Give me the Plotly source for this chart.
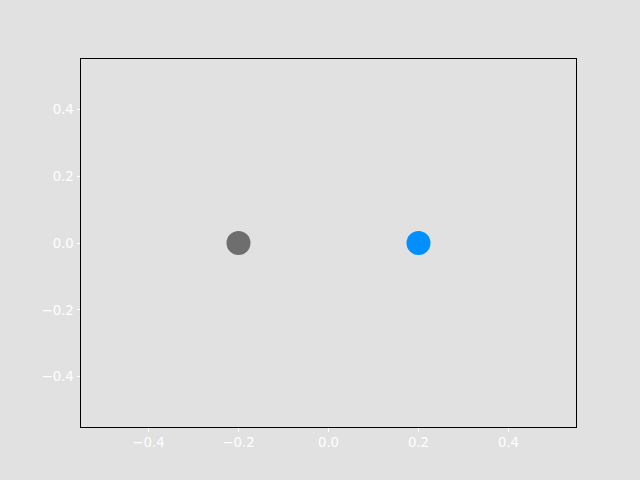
import plotly.graph_objects as go

x_vals = [-0.2, 0.2]
y_vals = [0.0, 0.0]
colors = ["#6e6e6e", "#008fff"]
tick_vals = [-0.4, -0.2, 0.0, 0.2, 0.4]
tick_text = ["\u22120.4", "\u22120.2", "0.0", "0.2", "0.4"]

fig = go.Figure()
fig.add_trace(go.Scatter(x=x_vals, y=y_vals, mode="markers",
                         marker=dict(size=24, color=colors, line=dict(width=0)),
                         showlegend=False, hoverinfo="skip"))

axis_common = dict(range=[-0.55, 0.55], showgrid=False, zeroline=False,
                   showline=True, linecolor="black", linewidth=1, mirror=True,
                   ticks="outside", ticklen=3.5, tickwidth=1, tickcolor="white",
                   tickvals=tick_vals, ticktext=tick_text,
                   tickfont=dict(family="DejaVu Sans", size=13.3, color="white"))
fig.update_xaxes(**axis_common)
fig.update_yaxes(**axis_common)
fig.update_layout(width=640, height=480,
                  paper_bgcolor="#e1e1e1", plot_bgcolor="#e1e1e1",
                  margin=dict(l=81, r=64, t=59, b=53))
fig.write_html("out.html")
